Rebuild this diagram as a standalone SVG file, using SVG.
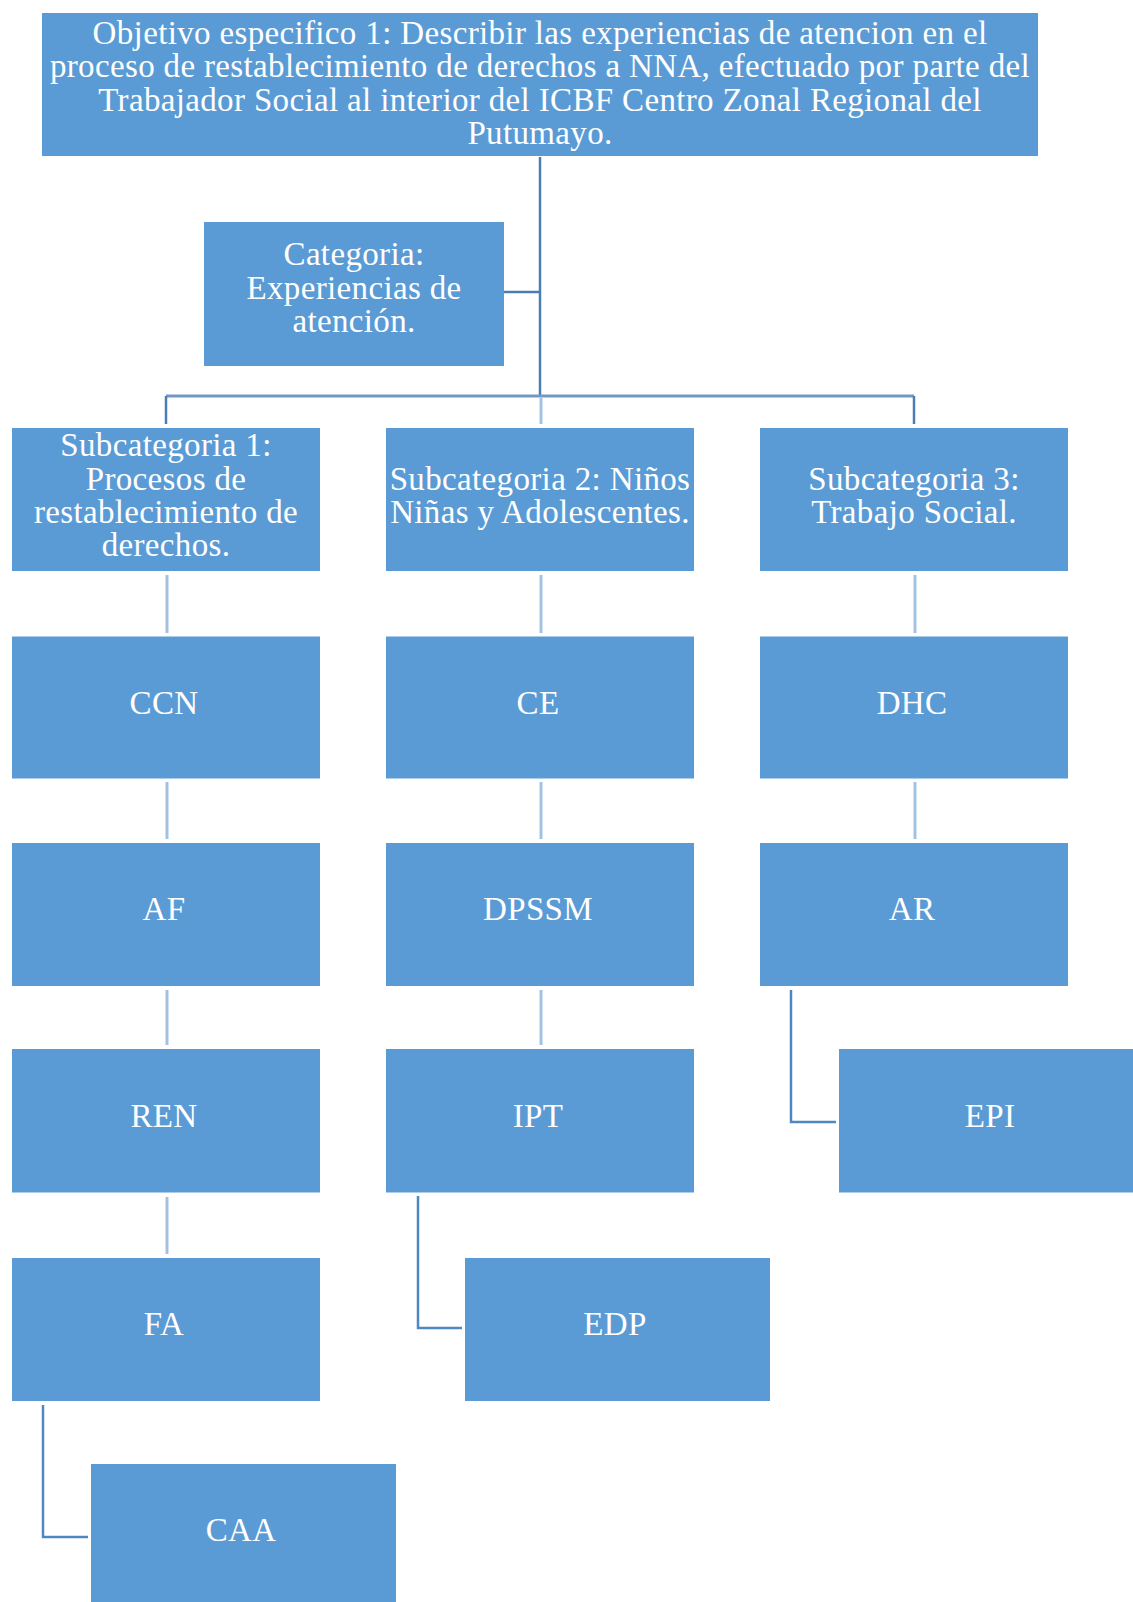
<svg xmlns="http://www.w3.org/2000/svg" width="1133" height="1602" viewBox="0 0 1133 1602">
<style>
.box{fill:#5b9bd5;}
.t{fill:#ffffff;font-family:"Liberation Serif","Times New Roman",serif;font-size:33px;letter-spacing:0.35px;text-anchor:middle;}
.dark{stroke:#4a7db4;stroke-width:2.5;fill:none;}
.bus{stroke:#7199c4;stroke-width:3;fill:none;}
.light{stroke:#a3c2e1;stroke-width:3;fill:none;}
.elbow{stroke:#4f87c1;stroke-width:2.5;fill:none;}
</style>
<rect width="1133" height="1602" fill="#ffffff"/>
<g id="connectors">
<path class="dark" d="M540,157 V396"/>
<path class="dark" d="M504,292 H540"/>
<path class="bus" d="M166,396 H914"/>
<path class="dark" d="M166,396 V424"/>
<path class="light" d="M541,398 V424"/>
<path class="dark" d="M914,396 V424"/>
<path class="light" d="M167,575 V633"/>
<path class="light" d="M541,575 V633"/>
<path class="light" d="M915,575 V633"/>
<path class="light" d="M167,782 V839"/>
<path class="light" d="M541,782 V839"/>
<path class="light" d="M915,782 V839"/>
<path class="light" d="M167,990 V1045"/>
<path class="light" d="M541,990 V1045"/>
<path class="light" d="M167,1197 V1254"/>
<path class="elbow" d="M791,990 V1122 H836"/>
<path class="elbow" d="M418,1196 V1328 H462"/>
<path class="elbow" d="M43,1405 V1537 H88"/>
</g>
<g id="objetivo">
<rect class="box" x="42" y="13" width="996" height="143"/>
<text class="t" x="540" y="43.5">Objetivo especifico 1: Describir las experiencias de atencion en el</text>
<text class="t" x="540" y="77">proceso de restablecimiento de derechos a NNA, efectuado por parte del</text>
<text class="t" x="540" y="110.5">Trabajador Social al interior del ICBF Centro Zonal Regional del</text>
<text class="t" x="540" y="143.5">Putumayo.</text>
</g>
<g id="categoria">
<rect class="box" x="204" y="222" width="300" height="144"/>
<text class="t" x="354" y="265">Categoria:</text>
<text class="t" x="354" y="298.5">Experiencias de</text>
<text class="t" x="354" y="332">atención.</text>
</g>
<g id="subcat1">
<rect class="box" x="12" y="428" width="308" height="143"/>
<text class="t" x="166" y="456">Subcategoria 1:</text>
<text class="t" x="166" y="489.5">Procesos de</text>
<text class="t" x="166" y="523">restablecimiento de</text>
<text class="t" x="166" y="556">derechos.</text>
</g>
<g id="subcat2">
<rect class="box" x="386" y="428" width="308" height="143"/>
<text class="t" x="540" y="490">Subcategoria 2: Niños</text>
<text class="t" x="540" y="523">Niñas y Adolescentes.</text>
</g>
<g id="subcat3">
<rect class="box" x="760" y="428" width="308" height="143"/>
<text class="t" x="914" y="490">Subcategoria 3:</text>
<text class="t" x="914" y="523">Trabajo Social.</text>
</g>
<g id="ccn"><rect class="box" x="12" y="636.5" width="308" height="142"/><text class="t" x="164" y="714">CCN</text></g>
<g id="ce"><rect class="box" x="386" y="636.5" width="308" height="142"/><text class="t" x="538" y="714">CE</text></g>
<g id="dhc"><rect class="box" x="760" y="636.5" width="308" height="142"/><text class="t" x="912" y="714">DHC</text></g>
<g id="af"><rect class="box" x="12" y="843" width="308" height="143"/><text class="t" x="164" y="920">AF</text></g>
<g id="dpssm"><rect class="box" x="386" y="843" width="308" height="143"/><text class="t" x="538" y="920">DPSSM</text></g>
<g id="ar"><rect class="box" x="760" y="843" width="308" height="143"/><text class="t" x="912" y="920">AR</text></g>
<g id="ren"><rect class="box" x="12" y="1049" width="308" height="143.5"/><text class="t" x="164" y="1127">REN</text></g>
<g id="ipt"><rect class="box" x="386" y="1049" width="308" height="143.5"/><text class="t" x="538" y="1127">IPT</text></g>
<g id="epi"><rect class="box" x="839" y="1049" width="305" height="143.5"/><text class="t" x="990" y="1127">EPI</text></g>
<g id="fa"><rect class="box" x="12" y="1258" width="308" height="143"/><text class="t" x="164" y="1335">FA</text></g>
<g id="edp"><rect class="box" x="465" y="1258" width="305" height="143"/><text class="t" x="615" y="1335">EDP</text></g>
<g id="caa"><rect class="box" x="91" y="1464" width="305" height="143"/><text class="t" x="241" y="1541">CAA</text></g>
</svg>
